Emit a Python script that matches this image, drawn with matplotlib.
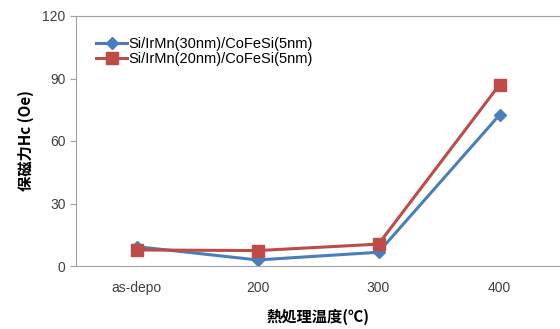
import numpy as np
import matplotlib.pyplot as plt

plt.rcParams['font.family'] = ['Liberation Sans', 'Noto Sans CJK JP', 'DejaVu Sans']

# donnees
categories = ['as-depo', '200', '300', '400']
hc_30nm = [9.3, 2.9, 6.6, 72.5]
hc_20nm = [7.7, 7.4, 10.5, 87.0]
label_30 = 'Si/IrMn(30nm)/CoFeSi(5nm)'
label_20 = 'Si/IrMn(20nm)/CoFeSi(5nm)'

fig = plt.figure(figsize=(5.6, 3.29), dpi=100)
ax = fig.add_axes([76/560, 1-266/329, 484/560, 250/329])

x = np.arange(len(categories))
ax.plot(x, hc_30nm, color='#4a7ebb', lw=2.2, marker='D', ms=6, label=label_30)
ax.plot(x, hc_20nm, color='#be4b48', lw=2.2, marker='s', ms=8, label=label_20)

ax.set_xlim(-0.5, 3.5)
ax.set_ylim(0, 120)
ax.set_yticks([0, 30, 60, 90, 120])
ax.set_xticks(x)
ax.set_xticklabels(categories)
ax.tick_params(axis='x', length=0, pad=11, labelsize=10, colors='#404040')
ax.tick_params(axis='y', length=4, color='#a0a0a0', labelsize=10, colors='#404040')
for s in ['left', 'top', 'bottom']:
    ax.spines[s].set_color('#a0a0a0')
ax.spines['right'].set_visible(False)

ax.set_xlabel('熱処理温度(℃)', fontsize=11, fontweight='bold', labelpad=10,
              family=['Noto Sans CJK JP', 'DejaVu Sans'])
ax.set_ylabel('保磁力Hc (Oe)', fontsize=11, fontweight='bold', labelpad=6,
              family=['Noto Sans CJK JP', 'DejaVu Sans'])

ax.legend(loc='upper left', bbox_to_anchor=(0.03, 0.94), frameon=False,
          fontsize=10.5, handlelength=2.1, labelspacing=0.1, borderaxespad=0,
          handletextpad=0.1)

fig.savefig('out.png', dpi=100)
